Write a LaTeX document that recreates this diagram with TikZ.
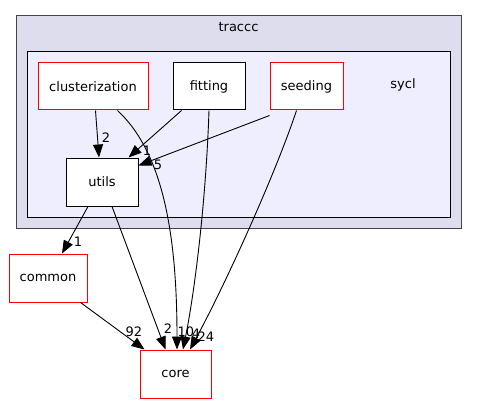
\documentclass[tikz,border=0pt]{standalone}
\usepackage{fontspec}
\setmainfont{DejaVu Sans}
\usetikzlibrary{arrows.meta}
\definecolor{outerfill}{HTML}{DDDDEE}
\definecolor{innerfill}{HTML}{EEEEFF}
\definecolor{outerline}{HTML}{444444}
\tikzset{
    dirfont/.style={font=\fontsize{13}{15}\selectfont},
    dirnode/.style={draw, fill=white, line width=1pt, inner sep=0pt, minimum height=47pt, dirfont},
    reddir/.style={dirnode, draw=red},
    clusterbox/.style={line width=1pt, inner sep=0pt},
    deparrow/.style={-{Triangle[length=13pt,width=10pt]}, line width=0.9pt},
    edgelabel/.style={dirfont, inner sep=0pt}
}
\begin{document}
\begin{tikzpicture}[x=1pt,y=-1pt]
    \useasboundingbox (0,0) rectangle (477,404);
    % directory clusters
    \node[clusterbox, draw=outerline, fill=outerfill, minimum width=445pt, minimum height=212pt] (traccc) at (238.5,122) {};
    \node[dirfont] (tracccname) at (238.5,27) {traccc};
    \node[clusterbox, draw=black, fill=innerfill, minimum width=423pt, minimum height=165pt] (sycl) at (238.5,134.5) {};
    \node[dirfont] (syclname) at (403,85) {sycl};

    % directories
    \node[reddir, minimum width=110pt] (clus) at (93,86.5) {clusterization};
    \node[dirnode, minimum width=72pt] (fit) at (209,86.5) {fitting};
    \node[reddir, minimum width=73pt] (seed) at (306.5,86.5) {seeding};
    \node[dirnode, minimum width=72pt, minimum height=48pt] (utils) at (102,182) {utils};
    \node[reddir, minimum width=78pt, minimum height=48pt] (common) at (48,278) {common};
    \node[reddir, minimum width=71pt, minimum height=48pt] (core) at (175.5,374) {core};

    % dependencies
    \draw[deparrow] ([xshift=58pt]clus.south west) -- ([xshift=-3pt]utils.north);
    \draw[deparrow] ([xshift=9pt]fit.south west) -- ([xshift=-10pt]utils.north east);
    \draw[deparrow] ([yshift=-5pt]seed.south west) -- ([yshift=-8pt]utils.north east);
    \draw[deparrow] ([xshift=80pt]clus.south west) .. controls (160,150) and (177,225) .. ([xshift=1.5pt]core.north);
    \draw[deparrow] (fit.south) .. controls (206,200) and (195,290) .. ([xshift=7.5pt]core.north);
    \draw[deparrow] ([xshift=-10pt]seed.south) .. controls (275,175) and (225,285) .. ([xshift=14.5pt]core.north);
    \draw[deparrow] ([xshift=10pt]utils.south) -- ([xshift=26pt]core.north west);
    \draw[deparrow] ([xshift=-14pt]utils.south) -- ([xshift=14pt]common.north);
    \draw[deparrow] ([xshift=-7pt]common.south east) -- ([xshift=5pt]core.north west);

    % counts
    \node[edgelabel] (nclus) at (106,138) {2};
    \node[edgelabel] (nfit) at (147,151) {1};
    \node[edgelabel] (nseed) at (158,165) {5};
    \node[edgelabel] (ncommon) at (78,242) {1};
    \node[edgelabel] (nglob) at (134,332) {92};
    \node[edgelabel] (nutils) at (168,329) {2};
    \node[edgelabel] (nclcore) at (186,332) {10};
    \node[edgelabel] (nfitcore) at (196,334) {4};
    \node[edgelabel] (nseedcore) at (206,337) {24};
\end{tikzpicture}
\end{document}
